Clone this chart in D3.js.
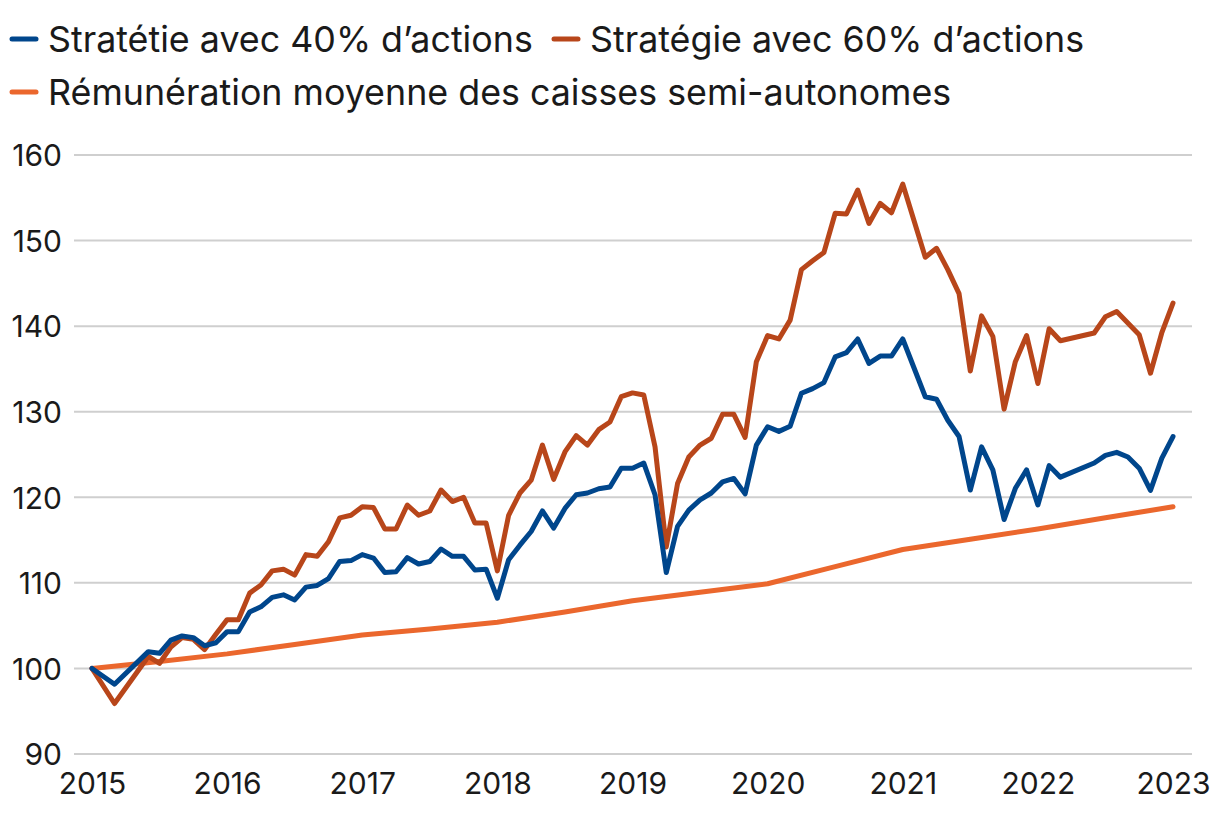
<!DOCTYPE html>
<html>
<head>
<meta charset="utf-8">
<script src="https://cdn.jsdelivr.net/npm/d3@7"></script>
<style>
  html, body { margin: 0; padding: 0; background: #ffffff; }
  svg { display: block; font-family: Inter, "Noto Sans", sans-serif; }
</style>
</head>
<body>
<svg id="chart" width="1220" height="816"></svg>
<script>
// Month index since January 2015 (0 = Jan 2015, 96 = Jan 2023)
const months = d3.range(0, 97);

const yearLabels = ["2015", "2016", "2017", "2018", "2019", "2020", "2021", "2022", "2023"];
const yTicks = [90, 100, 110, 120, 130, 140, 150, 160];

const seriesNames = [
  "Stratétie avec 40% d’actions",
  "Stratégie avec 60% d’actions",
  "Rémunération moyenne des caisses semi-autonomes"
];

// null = no separate point read at that month
const strat40 = [
  100.0, null, 98.15, null, null, 101.96, 101.77, 103.3, 103.8, 103.6, 102.65, 103.0,
  104.3, 104.3, 106.6, 107.2, 108.3, 108.6, 108.0, 109.5, 109.7, 110.5, 112.5, 112.6,
  113.3, 112.9, 111.2, 111.3, 112.95, 112.2, 112.5, 113.96, 113.1, 113.1, 111.5, 111.6,
  108.2, 112.7, 114.4, 116.0, 118.4, 116.4, 118.7, 120.3, 120.5, 121.0, 121.2, 123.4,
  123.4, 124.0, 120.3, 111.2, 116.6, 118.5, 119.7, 120.5, 121.8, 122.2, 120.4, 126.1,
  128.25, 127.7, 128.3, 132.15, 132.7, 133.4, 136.4, 136.9, 138.5, 135.65, 136.5, 136.5,
  138.5, null, 131.75, 131.45, 129.0, 127.1, 120.85, 125.9, 123.2, 117.4, 121.05, 123.2,
  119.1, 123.7, 122.35, null, null, 124.0, 124.9, 125.25, 124.7, 123.4, 120.8, 124.55,
  127.1
];

const strat60 = [
  100.0, null, 95.9, null, null, 101.4, 100.6, 102.5, 103.6, 103.4, 102.2, 104.0,
  105.7, 105.7, 108.8, 109.75, 111.4, 111.6, 110.9, 113.3, 113.1, 114.8, 117.6, 117.9,
  118.9, 118.8, 116.3, 116.3, 119.1, 117.9, 118.4, 120.85, 119.5, 120.0, 117.0, 117.0,
  111.4, 117.9, 120.5, 122.0, 126.1, 122.1, 125.3, 127.2, 126.1, 127.9, 128.8, 131.75,
  132.2, 131.95, 125.9, 114.2, 121.6, 124.7, 126.1, 126.9, 129.7, 129.7, 127.0, 135.85,
  138.9, 138.5, 140.7, 146.6, 147.65, 148.6, 153.2, 153.1, 155.9, 152.0, 154.35, 153.25,
  156.6, null, 148.05, 149.1, 146.6, 143.8, 134.75, 141.2, 138.8, 130.3, 135.85, 138.9,
  133.3, 139.7, 138.3, null, null, 139.2, 141.1, 141.7, null, 139.0, 134.5, 139.2,
  142.7
];

// Average return of the semi-autonomous funds (read at half-year points)
const remunMonths = [0, 6, 12, 18, 24, 30, 36, 42, 48, 54, 60, 66, 72, 78, 84, 90, 96];
const remunValues = [100.0, 100.8, 101.7, 102.8, 103.9, 104.6, 105.4, 106.6, 107.9, 108.9, 109.9, 111.9, 113.9, 115.1, 116.3, 117.6, 118.9];

const colors = ["#00468c", "#b8461a", "#eb672d"];

const svg = d3.select("#chart");

const x = d3.scaleLinear().domain([0, 96]).range([92, 1173]);
const y = d3.scaleLinear().domain([90, 160]).range([754, 155]);

// Gridlines
svg.append("g")
  .selectAll("line")
  .data(yTicks)
  .join("line")
  .attr("x1", 74).attr("x2", 1192)
  .attr("y1", d => y(d)).attr("y2", d => y(d))
  .attr("stroke", "#cfcfcf")
  .attr("stroke-width", 2);

// Y axis labels
const yAxis = d3.axisLeft(y).tickValues(yTicks).tickSize(0).tickPadding(0);
const gy = svg.append("g").attr("transform", "translate(62,0)").call(yAxis);
gy.select(".domain").remove();
gy.selectAll("text")
  .attr("font-family", "Inter, 'Noto Sans', sans-serif")
  .attr("font-size", 30)
  .attr("fill", "#1a1a1a")
  .attr("dy", "0.36em");

// X axis labels
const xAxis = d3.axisBottom(x)
  .tickValues(yearLabels.map((d, i) => i * 12))
  .tickFormat((d, i) => yearLabels[i])
  .tickSize(0).tickPadding(0);
const gx = svg.append("g").attr("transform", "translate(0,794)").call(xAxis);
gx.select(".domain").remove();
gx.selectAll("text")
  .attr("font-family", "Inter, 'Noto Sans', sans-serif")
  .attr("font-size", 30)
  .attr("fill", "#1a1a1a")
  .attr("dy", 0);

const line = d3.line().x(d => x(d[0])).y(d => y(d[1]));

const s40 = months.map((m, i) => [m, strat40[i]]).filter(d => d[1] != null);
const s60 = months.map((m, i) => [m, strat60[i]]).filter(d => d[1] != null);
const rem = remunMonths.map((m, i) => [m, remunValues[i]]);

[[rem, colors[2]], [s60, colors[1]], [s40, colors[0]]].forEach(([data, c]) => {
  svg.append("path")
    .datum(data)
    .attr("d", line)
    .attr("fill", "none")
    .attr("stroke", c)
    .attr("stroke-width", 5)
    .attr("stroke-linejoin", "round")
    .attr("stroke-linecap", "round");
});

// Legend
const legendItems = [
  { name: seriesNames[0], color: colors[0], x: 12, y: 39 },
  { name: seriesNames[1], color: colors[1], x: 554, y: 39 },
  { name: seriesNames[2], color: colors[2], x: 12, y: 92 }
];
const lg = svg.append("g").selectAll("g").data(legendItems).join("g")
  .attr("transform", d => `translate(${d.x},${d.y})`);
lg.append("line")
  .attr("x1", 0).attr("x2", 24).attr("y1", 0).attr("y2", 0)
  .attr("stroke", d => d.color).attr("stroke-width", 5).attr("stroke-linecap", "round");
lg.append("text")
  .attr("x", 36).attr("y", 0).attr("dy", "0.36em")
  .attr("font-family", "Inter, 'Noto Sans', sans-serif")
  .attr("font-size", 35.8)
  .attr("fill", "#1a1a1a")
  .text(d => d.name);
</script>
</body>
</html>
